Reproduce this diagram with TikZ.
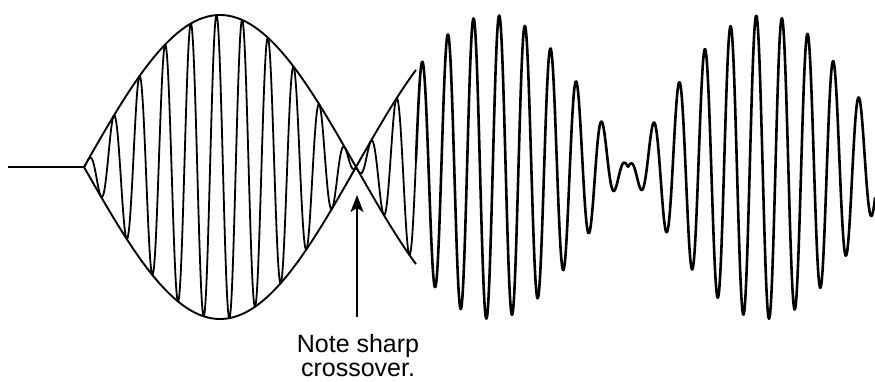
\documentclass[tikz,border=0pt]{standalone}
\usepackage{fontspec}
\setmainfont{Liberation Sans}
\usepackage{tikz}
\usetikzlibrary{arrows.meta}

\begin{document}
\begin{tikzpicture}[
        x=1pt, y=-1pt,
        declare function={env(\x)=152*abs(sin((\x-84)/272*180)); sig(\x)=167-env(\x)*cos((\x-88)/25.7*360);},
        envelope/.style={line width=1.9pt, line join=round},
        carrier/.style={line width=1.8pt, line join=round},
        wave/.style={line width=2.6pt, line join=round, line cap=round},
        pointer/.style={line width=1.8pt, -{Stealth[length=17pt, width=13pt, inset=4pt]}},
        notetext/.style={align=center, inner sep=0pt, font=\fontsize{25}{24.5}\selectfont}
    ]
        \useasboundingbox (0,0) rectangle (875,381);

        % Flat lead-in
        \coordinate (start) at (8,167);
        \coordinate (onset) at (84,167);
        \draw[envelope] (start) -- (onset);

        % Envelope lines through the crossover
        \draw[envelope] plot[domain=84:416, samples=300] (\x, {167-152*sin((\x-84)/272*180)});
        \draw[envelope] plot[domain=84:416, samples=300] (\x, {167+152*sin((\x-84)/272*180)});

        % Carrier inside the envelope
        \draw[carrier] plot[domain=84:416, samples=800] (\x, {sig(\x)});

        % Free-running wave
        \draw[wave] plot[domain=416:875, samples=1000] (\x, {sig(\x)});

        % Note and arrow
        \node[notetext, anchor=north] (note) at (358,334) {Note sharp\\crossover.};
        \coordinate (tip) at (357,195);
        \draw[pointer] (note.north -| tip) ++(0,-17) -- (tip);
    \end{tikzpicture}
\end{document}
